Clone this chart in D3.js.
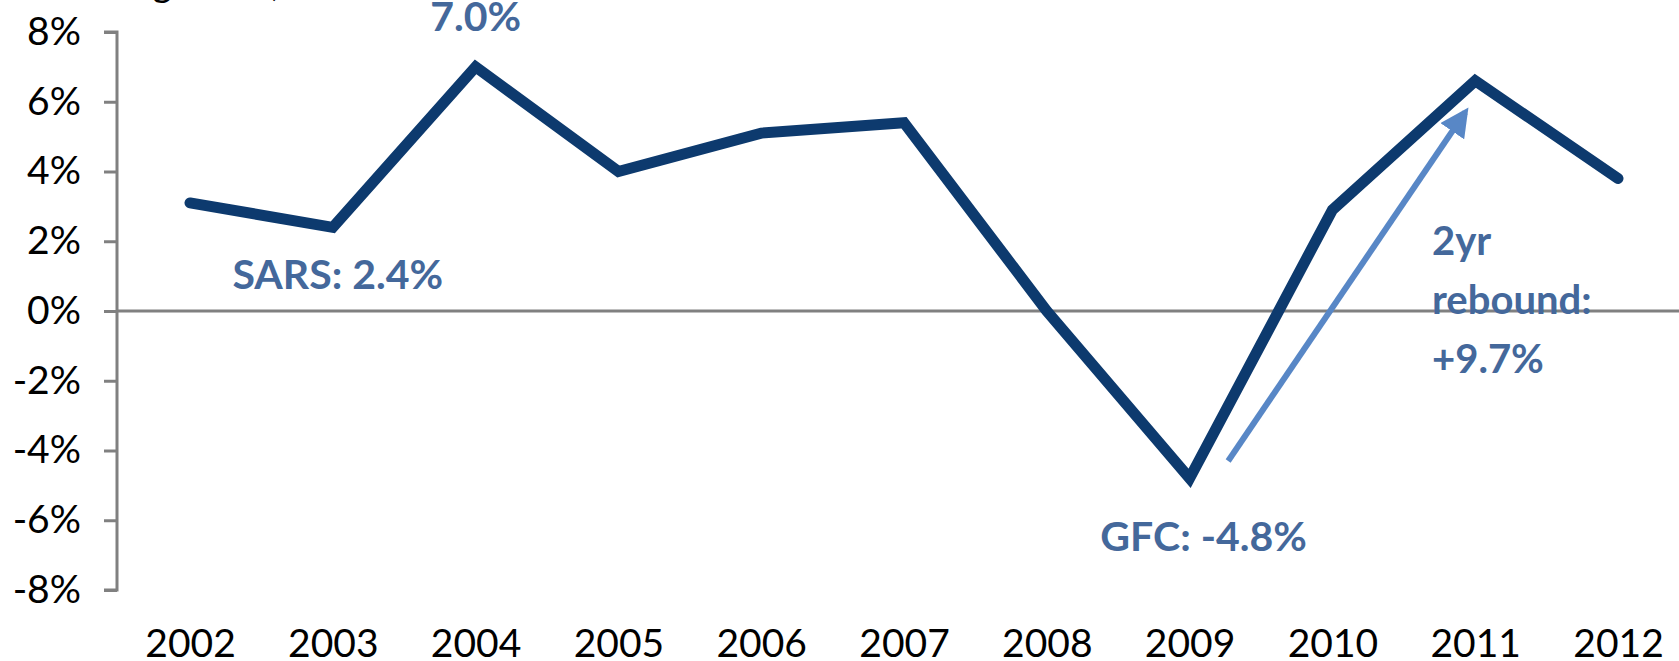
<!DOCTYPE html>
<html>
<head>
<meta charset="utf-8">
<script src="https://cdn.jsdelivr.net/npm/d3@7"></script>
<style>
  body { margin: 0; background: #fff; }
  text { font-family: Lato, "Open Sans", sans-serif; }
</style>
</head>
<body>
<script>
var svg_width  = 1679;
var svg_height = 661;

// data
var years  = [2002, 2003, 2004, 2005, 2006, 2007, 2008, 2009, 2010, 2011, 2012];
var growth = [3.1, 2.4, 7.0, 4.0, 5.1, 5.4, 0.0, -4.8, 2.9, 6.6, 3.8];
var yTicks = [-8, -6, -4, -2, 0, 2, 4, 6, 8];

// annotations
var notes = [
  {year: 2004, value: 7.0,  text: "7.0%"},
  {year: 2003, value: 2.4,  text: "SARS: 2.4%"},
  {year: 2009, value: -4.8, text: "GFC: -4.8%"}
];
var reboundLines = ["2yr", "rebound:", "+9.7%"];
var reboundFrom = {year: 2009.27, value: -4.3};
var reboundTo   = {year: 2010.93, value: 5.7};

var svg = d3.select('body').append('svg')
            .attr('width', svg_width)
            .attr('height', svg_height);

var x = d3.scaleLinear().domain([2002, 2012]).range([190, 1618]);
var y = d3.scaleLinear().domain([-8, 8]).range([590, 32]);

var lineColor = "#0d3a6e";
var noteColor = "#44689b";
var arrowColor = "#5887c6";

// cropped title at the very top (only descenders show)
svg.append("text")
   .attr("x", 64).attr("y", -4)
   .attr("font-size", 38)
   .attr("fill", "#000")
   .text("GDP growth, %");

// y axis
var yAxis = d3.axisLeft(y)
              .tickValues(yTicks)
              .tickSize(13)
              .tickFormat(d => d + "%");
var gy = svg.append("g")
            .attr("transform", "translate(117,0)")
            .call(yAxis);
gy.select(".domain").attr("stroke", "#808080").attr("stroke-width", 3)
  .attr("d", "M-13," + y(8) + "H0V" + y(-8) + "H-13");
gy.selectAll(".tick line").attr("stroke", "#808080").attr("stroke-width", 3);
gy.selectAll(".tick text")
  .attr("x", -36)
  .attr("font-size", 39)
  .attr("font-family", "Lato, sans-serif")
  .attr("fill", "#000");

// zero line
svg.append("line")
   .attr("x1", 117).attr("x2", svg_width)
   .attr("y1", y(0)).attr("y2", y(0))
   .attr("stroke", "#808080")
   .attr("stroke-width", 3);

// x labels
var xAxis = d3.axisBottom(x)
              .tickValues(years)
              .tickSize(0)
              .tickFormat(d3.format("d"));
var gx = svg.append("g")
            .attr("transform", "translate(0,600)")
            .call(xAxis);
gx.select(".domain").remove();
gx.selectAll(".tick text")
  .attr("y", 57)
  .attr("dy", 0)
  .attr("font-size", 39)
  .attr("font-family", "Lato, sans-serif")
  .attr("fill", "#000");

// the series
var line = d3.line()
             .x((d, i) => x(years[i]))
             .y(d => y(d));

svg.append("path")
   .datum(growth)
   .attr("d", line)
   .attr("fill", "none")
   .attr("stroke", lineColor)
   .attr("stroke-width", 11)
   .attr("stroke-linecap", "round")
   .attr("stroke-linejoin", "miter");

// rebound arrow
svg.append("defs").append("marker")
   .attr("id", "head")
   .attr("viewBox", "0 0 10 10")
   .attr("refX", 8).attr("refY", 5)
   .attr("markerWidth", 4.8).attr("markerHeight", 4.8)
   .attr("orient", "auto")
   .append("path")
   .attr("d", "M0,0L10,5L0,10z")
   .attr("fill", arrowColor);

svg.append("line")
   .attr("x1", x(reboundFrom.year)).attr("y1", y(reboundFrom.value))
   .attr("x2", x(reboundTo.year)).attr("y2", y(reboundTo.value))
   .attr("stroke", arrowColor)
   .attr("stroke-width", 6)
   .attr("marker-end", "url(#head)");

// annotation labels
var noteDx = {2004: 0, 2003: 5, 2009: 14};
var noteDy = {2004: -36, 2003: 62, 2009: 73};
svg.selectAll("text.note")
   .data(notes)
   .enter().append("text")
   .attr("class", "note")
   .attr("x", d => x(d.year) + noteDx[d.year])
   .attr("y", d => y(d.value) + noteDy[d.year])
   .attr("text-anchor", "middle")
   .attr("font-size", 41)
   .attr("font-weight", "bold")
   .attr("fill", noteColor)
   .text(d => d.text);

svg.append("text")
   .attr("font-size", 40)
   .attr("font-weight", "bold")
   .attr("fill", noteColor)
   .selectAll("tspan")
   .data(reboundLines)
   .enter().append("tspan")
   .attr("x", 1432)
   .attr("y", (d, i) => 255 + i * 59)
   .text(d => d);
</script>
</body>
</html>
